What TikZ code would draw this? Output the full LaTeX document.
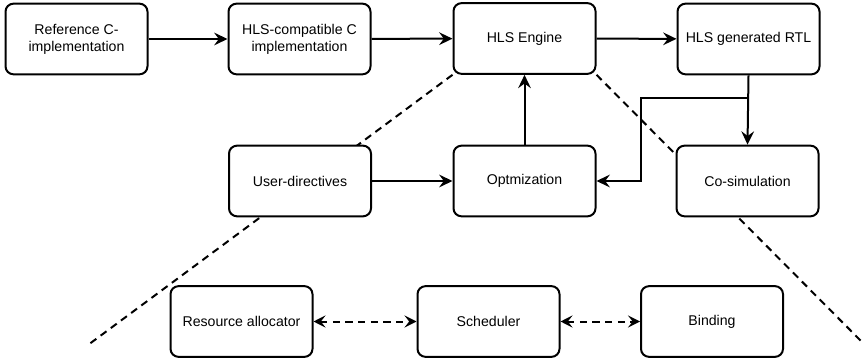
\documentclass[tikz,border=0pt]{standalone}
\usepackage{fontspec}
\setmainfont{Liberation Sans}
\usetikzlibrary{arrows.meta,backgrounds}
\begin{document}
\begin{tikzpicture}[x=0.75pt,y=-0.75pt,
  blk/.style={draw, line width=1.5pt, rounded corners=6pt, fill=white,
    minimum width=106.5pt, minimum height=53pt, align=center,
    font=\fontsize{10.6}{12.8}\selectfont, inner sep=2pt},
  arr/.style={line width=1.5pt, -{Stealth[length=10pt,width=9.5pt,inset=3.5pt]}},
  dbl/.style={line width=1.5pt, dash pattern=on 5.5pt off 4pt,
    {Stealth[length=9pt,width=9pt,inset=3.5pt]}-{Stealth[length=9pt,width=9pt,inset=3.5pt]}},
  guide/.style={line width=1.5pt, dash pattern=on 5.5pt off 4pt}]
\useasboundingbox (0,0) rectangle (866,359);

% main flow
\node[blk] (ref)    at (76.5,39)  {Reference C-\\implementation};
\node[blk] (hlsc)   at (299.5,39) {HLS-compatible C\\implementation};
\node[blk] (engine) at (524.5,38.5) {HLS Engine};
\node[blk] (rtl)    at (748.5,39) {HLS generated RTL};

\node[blk] (user)   at (300,181)   {User-directives};
\node[blk] (opt)    at (524.5,181) {Optmization};
\node[blk] (cosim)  at (747.5,181) {Co-simulation};

% inner view of the engine
\node[blk] (res)    at (241.5,321.5) {Resource allocator};
\node[blk] (sched)  at (488.5,321.5) {Scheduler};
\node[blk] (bind)   at (712,321.5)   {Binding};

% zoom guide lines behind the boxes
\coordinate (gl) at (88,345);
\coordinate (gr) at (862,342);
\begin{scope}[on background layer]
  \draw[guide] (engine.south west) -- (gl);
  \draw[guide] (engine.south east) -- (gr);
\end{scope}

% connectors
\draw[arr] (ref) -- (hlsc);
\draw[arr] (hlsc) -- (engine);
\draw[arr] (engine) -- (rtl);
\draw[arr] (rtl.south) -- (cosim.north);
\coordinate (split) at (748.5,98);
\draw[arr] (split) -- ++(-107.5,0) |- (opt.east);
\draw[arr] (user) -- (opt);
\draw[arr] (opt) -- (engine);

\draw[dbl] (res) -- (sched);
\draw[dbl] (sched) -- (bind);
\end{tikzpicture}
\end{document}
